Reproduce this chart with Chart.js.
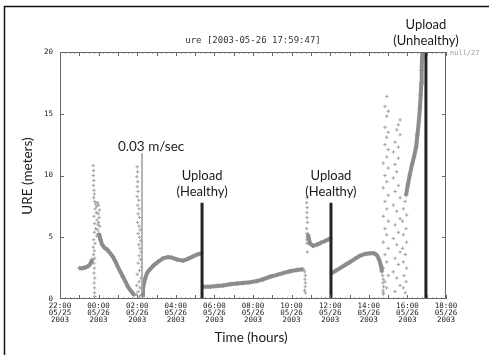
<!DOCTYPE html>
<html><head><meta charset="utf-8">
<script src="https://cdn.jsdelivr.net/npm/chart.js@4/dist/chart.umd.min.js"></script>
<style>html,body{margin:0;padding:0;background:#fff;}#wrap{position:relative;width:489px;height:355px;}</style>
</head><body><div id="wrap"><canvas id="c" width="489" height="355"></canvas></div>
<script>
// time axis: hours since 22:00 05/25/2003
const tickHours = [0,2,4,6,8,10,12,14,16,18,20];
const tickTimes = ['22:00','00:00','02:00','04:00','06:00','08:00','10:00','12:00','14:00','16:00','18:00'];
const tickDates = ['05/25','05/26','05/26','05/26','05/26','05/26','05/26','05/26','05/26','05/26','05/26'];
const tickYears = ['2003','2003','2003','2003','2003','2003','2003','2003','2003','2003','2003'];

// dense URE track (null = break)
const curveTimes = [
  1.00,1.15,1.30,1.45,1.55,1.62,1.66, null,
  2.02,2.10,2.18,2.30,2.44,2.60,2.75,2.88,3.00,3.13,3.26,3.39,3.52,3.65,3.78,3.84, null,
  4.25,4.30,4.40,4.51,4.66,4.87,5.08,5.34,5.60,5.80,6.06,6.37,6.63,6.89,7.10,7.31, null,
  7.41,7.77,8.13,8.45,8.81,9.17,9.48,9.84,10.21,10.52,10.88,11.24,11.55,11.92,12.28,12.59, null,
  12.85,12.95,13.11,13.32,13.52,13.73,13.94,14.02, null,
  14.09,14.30,14.51,14.77,15.03,15.28,15.54,15.80,16.06,16.27,16.42,16.53,16.63,16.68, null,
  17.93,18.03,18.13,18.24,18.34,18.45,18.52,18.60,18.65,18.69,18.72,18.74,18.76,18.77
];
const curveValues = [
  2.5,2.5,2.55,2.65,2.8,3.0,3.2, null,
  5.3,4.8,4.4,4.15,4.0,3.7,3.4,3.0,2.6,2.2,1.8,1.4,1.0,0.7,0.45,0.3, null,
  0.3,0.9,1.6,2.1,2.4,2.75,3.0,3.3,3.4,3.35,3.2,3.1,3.25,3.45,3.6,3.7, null,
  1.0,1.0,1.05,1.1,1.2,1.25,1.3,1.35,1.45,1.6,1.8,1.95,2.1,2.25,2.35,2.4, null,
  5.2,4.5,4.3,4.4,4.55,4.7,4.85,4.9, null,
  2.1,2.3,2.5,2.75,3.0,3.25,3.5,3.65,3.7,3.7,3.55,3.2,2.7,2.2, null,
  8.4,9.3,10.1,10.9,11.5,12.3,13.3,14.5,15.5,16.5,17.5,18.5,19.5,20.0
];

// scattered URE samples
const scatterTimes = [
  1.72,1.74,1.72,1.75,1.73,1.76,1.78,1.74,1.80,1.85,1.90,1.82,1.95,1.88,1.76,1.92,1.80,1.97,1.85,1.78,1.90,1.75,1.82,1.72,1.78,1.74,1.80,1.76,1.78,1.76,1.80,1.77,1.79,1.78,1.80,
  2.00,2.05,1.98,2.03,2.00,2.06,1.95,
  4.00,4.02,3.98,4.03,4.00,4.05,4.00,4.08,4.03,4.10,4.05,4.12,4.02,4.10,4.15,4.05,4.12,4.18,4.08,4.15,4.20,4.10,4.18,4.05,4.22,4.12,4.00,4.20,4.10,3.98,4.15,4.05,3.95,4.20,4.10,
  12.68,12.72,12.69,12.71,12.70,12.68,12.71,
  12.80,12.78,12.81,12.79,12.80,12.82,12.78,12.80,12.81,12.79,12.80,12.81,
  16.72,16.75,16.73,16.77,16.74,16.76,
  16.93,16.84,17.01,16.93,16.84,17.01,16.93,16.84,17.01,16.93,16.75,17.01,16.84,16.93,16.75,17.01,16.84,16.93,16.75,17.01,16.84,16.93,16.75,17.01,16.84,16.93,16.75,17.01,16.84,16.93,16.75,
  17.62,17.53,17.45,17.62,17.36,17.53,17.27,17.53,17.36,17.45,17.27,17.53,17.36,17.62,17.27,17.45,17.62,17.36,17.53,17.27,17.45,17.62,17.36,17.53,17.27,17.45,17.62,17.36,
  17.88,17.79,17.96,17.75,17.93,17.79,17.96,17.75,17.89,17.79,17.96,17.82,17.93,17.79,17.89
];
const scatterValues = [
  10.8,10.4,10.0,9.6,9.2,8.8,8.5,8.2,7.9,7.7,7.5,7.3,7.8,7.0,6.7,6.4,6.1,6.0,5.7,5.4,5.1,4.8,4.5,4.2,3.9,3.6,3.3,2.9,2.5,2.1,1.7,1.3,0.9,0.5,0.2,
  7.6,7.2,6.9,6.6,6.2,5.9,5.6,
  10.7,10.3,9.9,9.5,9.1,8.7,8.3,8.0,7.6,7.3,6.9,6.6,6.2,5.9,5.6,5.3,5.0,4.7,4.4,4.1,3.8,3.5,3.2,2.9,2.6,2.3,2.0,1.7,1.4,1.1,0.9,0.6,0.4,0.3,0.15,
  2.2,1.9,1.6,1.3,1.0,0.7,0.5,
  8.2,7.8,7.4,7.0,6.6,6.2,5.7,5.3,5.0,4.8,4.5,3.8,
  1.9,1.6,1.3,1.0,0.7,0.4,
  16.4,15.6,15.2,14.8,13.9,13.5,13.1,12.5,12.1,11.5,11.0,10.6,10.0,9.5,9.0,8.4,7.9,7.3,6.7,6.3,5.7,5.2,4.6,4.1,3.6,3.0,2.5,1.9,1.4,0.9,0.5,
  14.5,14.1,13.7,13.3,12.7,12.3,11.9,11.4,10.9,10.3,9.8,9.2,8.7,8.2,7.6,7.1,6.5,6.0,5.4,4.9,4.4,3.8,3.3,2.8,2.2,1.7,1.1,0.6,
  7.9,7.3,6.8,6.3,5.7,5.2,4.6,4.1,3.6,3.0,2.5,1.9,1.4,0.9,0.5
];

// annotations
const uploadTimes = [7.36, 14.04, 18.96];
const uploadTops = [7.8, 7.8, 20];
const uploadLabels = [['Upload','(Healthy)'],['Upload','(Healthy)'],['Upload','(Unhealthy)']];
const rateTime = 4.25, rateTop = 11.8, rateBottom = 0.5;
const rateLabel = '0.03 m/sec';
const titleText = 'ure [2003-05-26 17:59:47]';
const cornerText = 'null/27';
const xTitle = 'Time (hours)';
const yTitle = 'URE (meters)';

const pairs = (ts, vs) => ts.map((t, i) => ({x: t, y: vs[i]}));
const uploadData = [];
uploadTimes.forEach((t, i) => { uploadData.push({x: t, y: 0}, {x: t, y: uploadTops[i]}, {x: null, y: null}); });

const deco = {
  id: 'deco',
  beforeDraw(chart) {
    const c = chart.ctx; c.save(); c.fillStyle = '#fff'; c.fillRect(0, 0, chart.width, chart.height); c.restore();
  },
  afterDraw(chart) {
    const {ctx, chartArea: a, scales: {x, y}} = chart;
    ctx.save();
    ctx.strokeStyle = '#111'; ctx.lineWidth = 1.5;
    ctx.beginPath(); ctx.moveTo(4.5, 355); ctx.lineTo(4.5, 6.5); ctx.lineTo(489, 6.5); ctx.stroke();
    ctx.strokeStyle = '#666'; ctx.lineWidth = 1;
    ctx.strokeRect(a.left + 0.5, a.top + 0.5, a.right - a.left - 1, a.bottom - a.top - 1);
    ctx.beginPath();
    for (let h = 0; h <= 20.001; h += 0.25) {
      const px = Math.round(x.getPixelForValue(h)) + 0.5;
      const len = Math.abs(h - Math.round(h)) < 1e-6 ? 4 : 1.5;
      ctx.moveTo(px, a.bottom); ctx.lineTo(px, a.bottom - len);
      ctx.moveTo(px, a.top); ctx.lineTo(px, a.top + len);
    }
    [5, 10, 15].forEach(v => {
      const py = Math.round(y.getPixelForValue(v)) + 0.5;
      ctx.moveTo(a.left, py); ctx.lineTo(a.left + 4, py);
      ctx.moveTo(a.right, py); ctx.lineTo(a.right - 4, py);
    });
    ctx.stroke();
    ctx.fillStyle = '#333'; ctx.textAlign = 'center'; ctx.textBaseline = 'middle';
    ctx.font = '9px "DejaVu Sans Mono"';
    ctx.fillText(titleText, (a.left + a.right) / 2, 41);
    ctx.fillStyle = '#999'; ctx.textAlign = 'left'; ctx.font = '7px "DejaVu Sans Mono"';
    ctx.fillText(cornerText, a.right + 4, a.top + 1);
    ctx.fillStyle = '#1a1a1a'; ctx.textAlign = 'center'; ctx.font = '13.5px Lato';
    ctx.fillText(xTitle, (a.left + a.right) / 2 - 2, 338);
    ctx.save(); ctx.translate(28, 176); ctx.rotate(-Math.PI / 2); ctx.fillText(yTitle, 0, 0); ctx.restore();
    ctx.font = '13px Lato';
    uploadTimes.forEach((t, i) => {
      const px = x.getPixelForValue(t), py = y.getPixelForValue(uploadTops[i]);
      ctx.fillText(uploadLabels[i][0], px, py - 27);
      ctx.fillText(uploadLabels[i][1], px, py - 11);
    });
    ctx.font = '13.5px Lato'; ctx.textAlign = 'left';
    ctx.fillText(rateLabel, x.getPixelForValue(rateTime) - 24, y.getPixelForValue(rateTop) - 7);
    ctx.restore();
  }
};

new Chart(document.getElementById('c'), {
  type: 'scatter',
  data: {
    datasets: [
      {data: uploadData, showLine: true, borderColor: '#2a1f2b', borderWidth: 3, pointRadius: 0, spanGaps: false},
      {data: [{x: rateTime, y: rateTop}, {x: rateTime, y: rateBottom}], showLine: true, borderColor: '#aaa', borderWidth: 1, pointRadius: 0},
      {data: pairs(curveTimes, curveValues), showLine: true, spanGaps: false, borderColor: '#8c8c8c', borderWidth: 4,
       pointStyle: 'cross', pointRadius: 2.3, pointBorderColor: '#8c8c8c', pointBorderWidth: 1},
      {data: pairs(scatterTimes, scatterValues), showLine: false, pointStyle: 'cross', pointRadius: 1.7,
       pointBorderColor: '#a3a3a3', pointBorderWidth: 1}
    ]
  },
  options: {
    responsive: false, animation: false, devicePixelRatio: 1,
    layout: {padding: {left: 0, right: 43, top: 52, bottom: 0}},
    plugins: {legend: {display: false}, tooltip: {enabled: false}, title: {display: false}},
    scales: {
      x: {
        type: 'linear', min: 0, max: 20,
        afterFit(s) { s.height = 56; s.paddingLeft = 0; s.paddingRight = 0; },
        ticks: {
          stepSize: 2, autoSkip: false, maxRotation: 0, minRotation: 0, padding: 4, color: '#222',
          font: {family: 'DejaVu Sans Mono', size: 7.5, lineHeight: 0.93},
          callback(v) { const i = tickHours.indexOf(v); return i < 0 ? '' : [tickTimes[i], tickDates[i], tickYears[i]]; }
        },
        grid: {display: false, drawTicks: false}, border: {display: false}
      },
      y: {
        min: 0, max: 20,
        afterFit(s) { s.width = 60; s.paddingTop = 0; s.paddingBottom = 0; },
        ticks: {stepSize: 5, padding: 7, color: '#222', font: {family: 'DejaVu Sans Mono', size: 7.5}},
        grid: {display: false, drawTicks: false}, border: {display: false}
      }
    }
  },
  plugins: [deco]
});
</script></body></html>
